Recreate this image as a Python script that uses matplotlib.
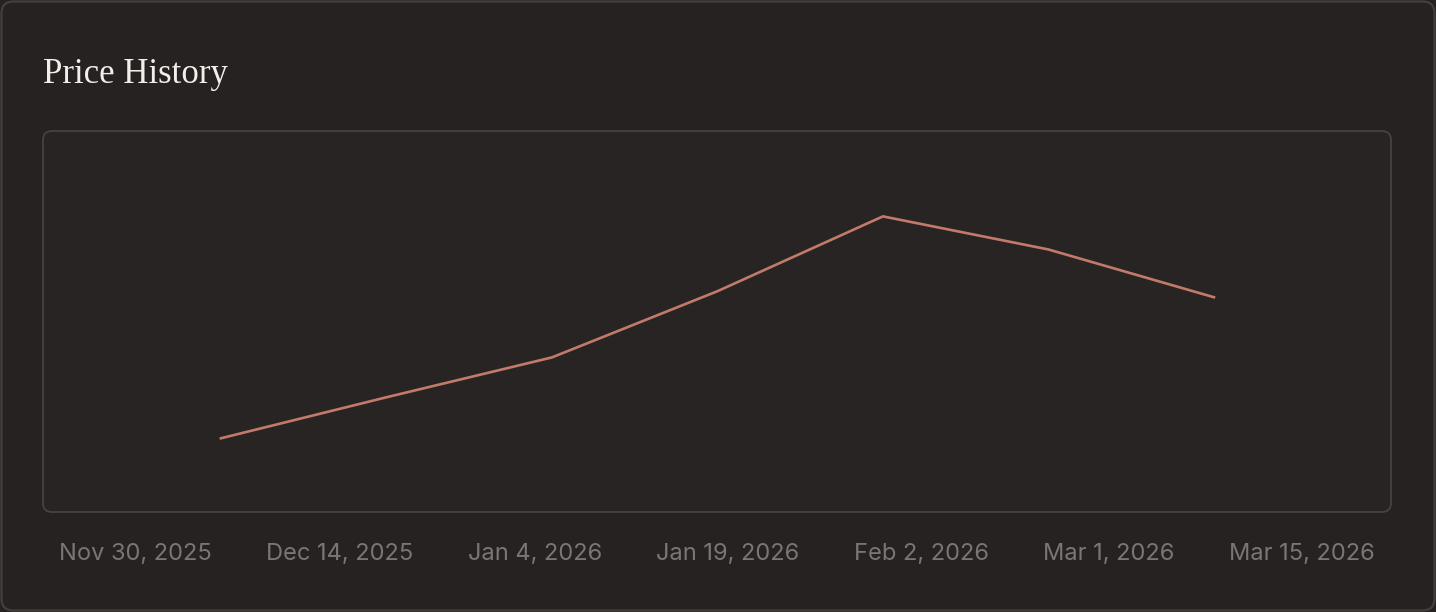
import matplotlib
matplotlib.use('Agg')
import matplotlib.pyplot as plt
from matplotlib.patches import FancyBboxPatch
from matplotlib.transforms import IdentityTransform

# price history (one point per listed date)
dates = ['Nov 30, 2025', 'Dec 14, 2025', 'Jan 4, 2026', 'Jan 19, 2026',
         'Feb 2, 2026', 'Mar 1, 2026', 'Mar 15, 2026']
prices = [1200, 1309, 1415, 1591, 1790, 1702, 1575]

bg = '#262221'
W, H = 1436, 612

fig = plt.figure(figsize=(W / 100, H / 100), dpi=100, facecolor=bg)

# outer card
card = FancyBboxPatch((1.5, 1.5), W - 3, H - 3,
                      boxstyle='round,pad=0,rounding_size=12',
                      transform=IdentityTransform(),
                      fc=bg, ec='#44403e', lw=1.5, zorder=-2)
fig.patches.append(card)

# inner plot box
box = FancyBboxPatch((43, H - 512), 1348, 381,
                     boxstyle='round,pad=0,rounding_size=9',
                     transform=IdentityTransform(),
                     fc='#282423', ec='#46423f', lw=1.3, zorder=-1)
fig.patches.append(box)

ax = fig.add_axes([43 / W, (H - 512) / H, 1348 / W, 381 / H])
ax.set_facecolor('none')
for s in ax.spines.values():
    s.set_visible(False)
ax.set_xticks([])
ax.set_yticks([])

x = list(range(len(prices)))
ax.plot(x, prices, color='#c27a6b', lw=1.9, solid_joinstyle='miter')
ax.set_xlim(-1.075, 7.07)
ax.set_ylim(1004, 2017)

fig.text(43 / W, 1 - 83 / H, 'Price History', family='Liberation Serif',
         fontsize=25, color='#f2eee9', va='baseline', ha='left')

# date labels spread evenly (space-between) under the box
labels = [fig.text(0, 1 - 554 / H, d, family='Inter', fontsize=17,
                   color='#7b7673', va='center', ha='left') for d in dates]
fig.canvas.draw()
r = fig.canvas.get_renderer()
widths = [t.get_window_extent(r).width for t in labels]
left, right = 59, 1375
gap = (right - left - sum(widths)) / (len(labels) - 1)
pos = left
for t, w in zip(labels, widths):
    t.set_x(pos / W)
    pos += w + gap

fig.savefig('out.png', dpi=100, facecolor=bg)
